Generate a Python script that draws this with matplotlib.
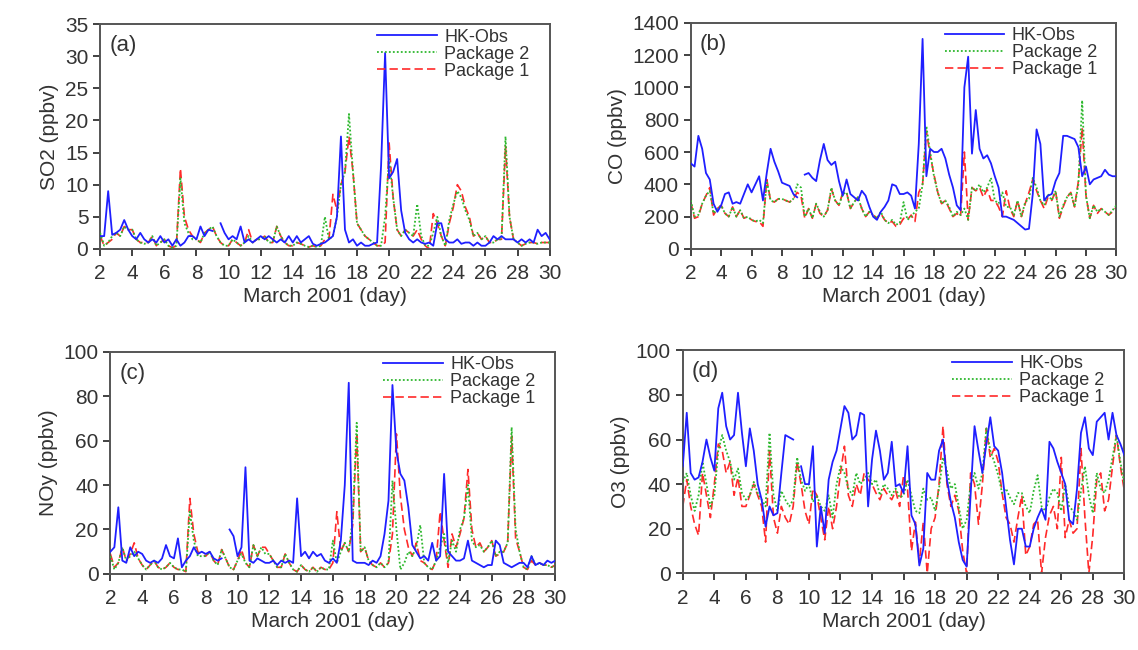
import numpy as np
import matplotlib
matplotlib.use("Agg")
import matplotlib.pyplot as plt

plt.rcParams["font.family"] = ["Liberation Sans", "DejaVu Sans"]

# -----------------------------------------------------------------------------
# data (6-hourly readings, March 2-30 2001)
# -----------------------------------------------------------------------------
nan = np.nan
days = np.arange(2, 30.01, 0.25)

so2_obs = [2.0, 2.0, 9.0, 2.2, 2.5, 3.0, 4.5, 3.0, 2.0, 1.5, 2.5, 1.5, 1.0, 1.5, 1.0, 2.0,
           1.0, 1.5, 0.5, 1.5, 0.5, 1.0, 2.0, 2.0, 1.5, 3.5, 2.0, 3.0, 2.8, nan, 4.0, 2.5,
           1.5, 2.0, 1.5, 3.5, 1.0, 1.5, 1.0, 1.5, 2.0, 1.5, 2.0, 1.5, 1.0, 1.5, 1.0, 2.0,
           1.0, 2.0, 1.0, 1.5, 2.0, 0.8, 0.5, 0.8, 1.0, 1.5, 2.0, 5.0, 17.5, 3.0, 1.0, 1.5,
           0.5, 1.0, 0.5, 0.5, 0.8, 1.0, 13.0, 30.5, 11.0, 12.0, 14.0, 6.0, 2.5, 1.5, 1.0, 1.5,
           1.0, 0.8, 1.0, 0.5, 4.0, 4.0, 1.5, 1.0, 1.0, 1.5, 0.8, 1.0, 1.0, 0.5, 1.0, 0.5,
           0.5, 1.0, 2.0, 1.5, 2.0, 1.5, 1.5, 1.5, 1.0, 1.5, 1.0, 1.5, 1.0, 3.0, 2.0, 2.5, 1.5]
so2_pkg2 = [2.5, 0.5, 1.0, 2.0, 2.5, 2.0, 3.5, 3.0, 3.0, 1.5, 1.0, 0.8, 1.0, 2.0, 0.5, 1.0,
            1.5, 0.5, 0.2, 0.5, 11.0, 4.0, 2.5, 1.5, 1.5, 1.0, 2.5, 3.0, 3.5, 2.0, 1.0, 0.5,
            0.5, 1.5, 1.0, 0.5, 1.0, 2.0, 1.0, 1.5, 1.5, 2.0, 1.0, 1.0, 3.5, 2.0, 1.0, 0.5,
            0.5, 1.0, 0.8, 0.5, 0.3, 0.5, 0.3, 0.5, 5.0, 1.5, 2.0, 5.0, 10.0, 12.0, 21.0, 12.0,
            4.0, 3.0, 2.0, 1.5, 1.0, 0.5, 0.5, 5.0, 14.0, 8.0, 3.0, 2.0, 3.0, 2.5, 2.0, 7.0,
            2.0, 0.5, 0.5, 2.5, 5.0, 2.0, 0.5, 4.5, 7.0, 9.0, 8.0, 6.0, 4.5, 2.0, 2.5, 1.5,
            2.0, 1.0, 1.0, 1.5, 1.5, 17.5, 5.0, 1.5, 1.0, 0.5, 0.8, 1.0, 1.0, 0.8, 1.0, 1.0, 1.0]
so2_pkg1 = [2.0, 0.5, 1.0, 1.5, 2.5, 2.0, 3.5, 3.0, 3.0, 1.5, 1.0, 1.0, 1.0, 2.0, 0.5, 1.0,
            1.5, 0.5, 0.2, 0.5, 12.5, 5.0, 3.0, 2.0, 1.5, 1.0, 2.5, 3.0, 3.5, 2.0, 1.0, 0.5,
            0.5, 1.5, 1.0, 0.5, 1.0, 3.0, 1.0, 1.5, 1.5, 2.0, 1.0, 1.0, 3.5, 2.0, 1.0, 0.5,
            0.5, 1.0, 0.8, 0.5, 0.3, 0.5, 0.3, 0.5, 1.5, 1.5, 8.5, 6.0, 10.0, 12.0, 17.5, 12.0,
            4.0, 3.0, 2.0, 1.5, 1.0, 0.5, 0.5, 1.0, 16.5, 8.0, 3.0, 2.0, 3.0, 2.5, 2.0, 3.0,
            1.5, 0.5, 0.0, 5.5, 4.0, 2.0, 0.5, 4.0, 6.5, 10.0, 9.0, 6.5, 5.0, 2.0, 2.5, 1.5,
            2.0, 1.0, 1.0, 1.5, 1.5, 16.0, 5.0, 1.5, 1.0, 0.5, 0.8, 1.0, 1.0, 0.8, 1.0, 1.0, 1.0]

co_obs = [530, 510, 700, 620, 470, 430, 280, 230, 270, 340, 350, 280, 290, 280, 340, 400,
          350, 400, 450, 300, 470, 620, 540, 480, 410, 400, 390, 340, 320, nan, 460, 470,
          440, 420, 550, 650, 550, 520, 540, 420, 330, 430, 340, 320, 300, 360, 330, 260,
          200, 180, 230, 260, 300, 400, 390, 340, 340, 350, 330, 250, 650, 1300, 450, 620,
          600, 600, 620, 560, 460, 380, 270, 240, 1000, 1190, 590, 860, 620, 560, 580, 530,
          450, 380, 200, 200, 190, 180, 160, 140, 120, 125, 340, 740, 650, 300, 330, 340,
          420, 470, 700, 700, 690, 680, 630, 450, 510, 400, 430, 440, 450, 490, 460, 450, 450]
co_pkg2 = [300, 200, 210, 280, 330, 360, 220, 250, 270, 220, 200, 260, 200, 240, 190, 200,
           180, 170, 180, 160, 420, 300, 290, 310, 310, 300, 290, 310, 400, 380, 200, 250,
           190, 280, 230, 200, 240, 380, 300, 270, 340, 350, 250, 290, 320, 250, 200, 230,
           210, 190, 230, 180, 160, 180, 150, 160, 290, 180, 200, 230, 250, 400, 760, 600,
           450, 350, 280, 300, 260, 200, 230, 210, 250, 180, 380, 360, 400, 350, 380, 440,
           300, 280, 350, 260, 260, 210, 300, 200, 290, 310, 440, 380, 300, 270, 340, 300,
           360, 200, 270, 320, 350, 260, 400, 920, 330, 190, 270, 230, 250, 230, 210, 240, 270]
co_pkg1 = [290, 190, 200, 280, 330, 380, 210, 250, 270, 220, 200, 260, 200, 240, 190, 200,
           180, 170, 170, 140, 430, 300, 290, 310, 310, 300, 290, 310, 350, 330, 190, 250,
           190, 280, 220, 200, 240, 370, 300, 270, 350, 350, 250, 290, 320, 250, 200, 230,
           210, 190, 220, 180, 160, 170, 140, 150, 190, 180, 210, 170, 350, 400, 730, 580,
           460, 350, 280, 300, 250, 200, 220, 200, 600, 180, 380, 360, 380, 320, 370, 300,
           300, 260, 200, 360, 250, 200, 300, 200, 280, 350, 430, 360, 300, 250, 320, 300,
           360, 190, 260, 320, 350, 260, 420, 750, 330, 190, 270, 220, 250, 230, 210, 230, 260]

noy_obs = [10, 12, 30, 6, 5, 12, 8, 10, 9, 6, 5, 6, 5, 7, 13, 8,
           7, 16, 3, 6, 8, 12, 9, 10, 9, 10, 7, 6, 7, nan, 20, 17,
           8, 12, 48, 6, 5, 7, 6, 5, 5, 6, 4, 6, 5, 6, 5, 34,
           8, 10, 7, 10, 8, 9, 6, 5, 7, 5, 15, 40, 86, 6, 5, 5,
           5, 4, 6, 5, 8, 18, 33, 85, 55, 45, 42, 30, 13, 10, 7, 8,
           6, 14, 6, 8, 45, 10, 8, 6, 6, 7, 15, 6, 5, 4, 3, 4,
           4, 15, 13, 5, 4, 3, 4, 5, 5, 3, 8, 4, 5, 4, 6, 5, 6]
noy_pkg2 = [8, 2, 5, 12, 6, 8, 10, 7, 4, 2, 4, 6, 3, 2, 3, 5,
            3, 2, 2, 1, 28, 15, 8, 8, 8, 10, 6, 4, 11, 7, 3, 2,
            6, 9, 5, 3, 13, 8, 12, 9, 9, 6, 3, 3, 9, 5, 2, 1,
            4, 2, 1, 3, 1, 3, 2, 2, 15, 5, 10, 14, 10, 25, 68, 10,
            12, 6, 4, 3, 5, 3, 5, 42, 20, 2, 5, 10, 8, 12, 22, 5,
            3, 2, 6, 12, 18, 5, 15, 10, 20, 25, 40, 15, 12, 13, 10, 12,
            15, 8, 10, 10, 14, 66, 20, 10, 3, 2, 8, 4, 5, 4, 4, 3, 4]
noy_pkg1 = [9, 3, 5, 12, 6, 9, 14, 7, 4, 2, 4, 6, 3, 2, 3, 5,
            3, 2, 2, 1, 34, 18, 10, 9, 8, 10, 6, 4, 11, 7, 3, 2,
            6, 11, 5, 3, 13, 8, 12, 12, 9, 6, 3, 3, 9, 5, 2, 1,
            4, 2, 1, 3, 1, 3, 2, 2, 5, 28, 10, 14, 10, 22, 63, 10,
            12, 6, 4, 3, 5, 3, 5, 18, 63, 35, 20, 12, 8, 14, 6, 5,
            3, 2, 6, 28, 15, 3, 18, 12, 18, 25, 47, 20, 12, 14, 10, 12,
            15, 8, 9, 10, 14, 62, 16, 10, 3, 2, 6, 4, 5, 4, 4, 3, 4]

o3_obs = [48, 72, 45, 42, 43, 50, 60, 52, 46, 74, 81, 66, 60, 62, 81, 63,
          48, 65, 55, 40, 33, 21, 30, 26, 27, 45, 62, 61, 60, nan, 48, 40,
          40, 57, 12, 30, 18, 42, 50, 55, 65, 75, 72, 60, 62, 72, 71, 30,
          51, 64, 55, 42, 45, 59, 39, 40, 36, 57, 26, 22, 3.5, 11, 45, 42,
          42, 55, 60, 42, 32, 25, 14, 6, 3, 35, 66, 55, 45, 58, 70, 57,
          55, 45, 30, 15, 4, 20, 20, 12, 12, 20, 25, 29, 24, 59, 56, 50,
          45, 40, 24, 22, 38, 63, 70, 56, 53, 68, 70, 72, 60, 72, 62, 58, 53]
o3_pkg2 = [41, 45, 35, 28, 35, 50, 40, 30, 35, 55, 62, 55, 50, 42, 47, 36,
           33, 35, 41, 36, 33, 30, 63, 35, 28, 37, 33, 30, 33, 52, 42, 37,
           40, 32, 35, 30, 28, 35, 25, 40, 48, 45, 38, 35, 45, 40, 42, 45,
           40, 42, 35, 40, 38, 35, 38, 34, 35, 42, 35, 28, 27, 38, 33, 34,
           28, 38, 52, 46, 38, 40, 30, 20, 24, 40, 45, 38, 45, 65, 55, 50,
           44, 36, 38, 34, 31, 36, 36, 30, 27, 37, 44, 30, 28, 34, 38, 36,
           28, 40, 30, 28, 24, 37, 48, 35, 27, 45, 38, 36, 42, 52, 62, 50, 40]
o3_pkg1 = [30, 42, 30, 22, 17, 45, 35, 25, 40, 58, 55, 45, 50, 35, 43, 30,
           30, 35, 40, 35, 30, 14, 55, 25, 18, 30, 25, 22, 30, 50, 40, 28,
           22, 38, 35, 25, 15, 30, 20, 30, 45, 57, 35, 30, 40, 35, 45, 42,
           40, 36, 33, 38, 35, 33, 37, 30, 44, 38, 10, 23, 5, 23, 0, 20,
           25, 40, 66, 40, 30, 35, 28, 10, 0, 45, 40, 22, 40, 65, 52, 56,
           50, 36, 25, 22, 14, 25, 35, 8, 12, 22, 24, 0, 16, 26, 30, 20,
           52, 16, 24, 18, 20, 56, 25, 0, 17, 42, 45, 28, 33, 48, 62, 48, 37]

# -----------------------------------------------------------------------------
# panels: (rect, label, ylabel, ymax, ystep, obs, pkg2, pkg1)
# -----------------------------------------------------------------------------
panels = [
    ([0.088, 0.617, 0.395, 0.346], "(a)", "SO2 (ppbv)", 35, 5, so2_obs, so2_pkg2, so2_pkg1),
    ([0.607, 0.617, 0.374, 0.348], "(b)", "CO (ppbv)", 1400, 200, co_obs, co_pkg2, co_pkg1),
    ([0.097, 0.117, 0.391, 0.342], "(c)", "NOy (ppbv)", 100, 20, noy_obs, noy_pkg2, noy_pkg1),
    ([0.600, 0.118, 0.388, 0.343], "(d)", "O3 (ppbv)", 100, 20, o3_obs, o3_pkg2, o3_pkg1),
]

C_OBS = "#1f1fff"
C_P2 = "#2eb82e"
C_P1 = "#ff2a2a"
C_TXT = "#333333"
C_AX = "#555555"

fig = plt.figure(figsize=(11.38, 6.5), dpi=100)

for rect, tag, ylab, ymax, ystep, obs, p2, p1 in panels:
    ax = fig.add_axes(rect)
    ax.plot(days, p1, color=C_P1, lw=1.2, ls=(0, (5, 2.5)), label="Package 1", zorder=2)
    ax.plot(days, p2, color=C_P2, lw=1.3, ls=(0, (1, 1.2)), label="Package 2", zorder=3)
    ax.plot(days, obs, color=C_OBS, lw=1.3, label="HK-Obs", zorder=4)

    ax.set_xlim(2, 30)
    ax.set_ylim(0, ymax)
    ax.set_xticks(np.arange(2, 31, 2))
    ax.set_yticks(np.arange(0, ymax + 1, ystep))
    ax.tick_params(labelsize=15, colors=C_TXT, length=5, width=1.3, direction="out")
    ax.tick_params(axis="x", pad=6)
    for s in ax.spines.values():
        s.set_color(C_AX)
        s.set_linewidth(1.4)
    ax.set_xlabel("March 2001 (day)", fontsize=15, color=C_TXT, labelpad=3)
    ax.set_ylabel(ylab, fontsize=15, color=C_TXT, labelpad=4)
    ax.text(0.02, 0.95, tag, transform=ax.transAxes, fontsize=16, color=C_TXT,
            ha="left", va="top")

    h, l = ax.get_legend_handles_labels()
    ax.legend(h[::-1], l[::-1], loc="upper right", bbox_to_anchor=(0.965, 1.0),
              frameon=False, fontsize=13, handlelength=3.3, handletextpad=0.4,
              labelspacing=0.0, borderaxespad=0.1, borderpad=0.15, labelcolor=C_TXT)

fig.savefig("out.png", dpi=100)
